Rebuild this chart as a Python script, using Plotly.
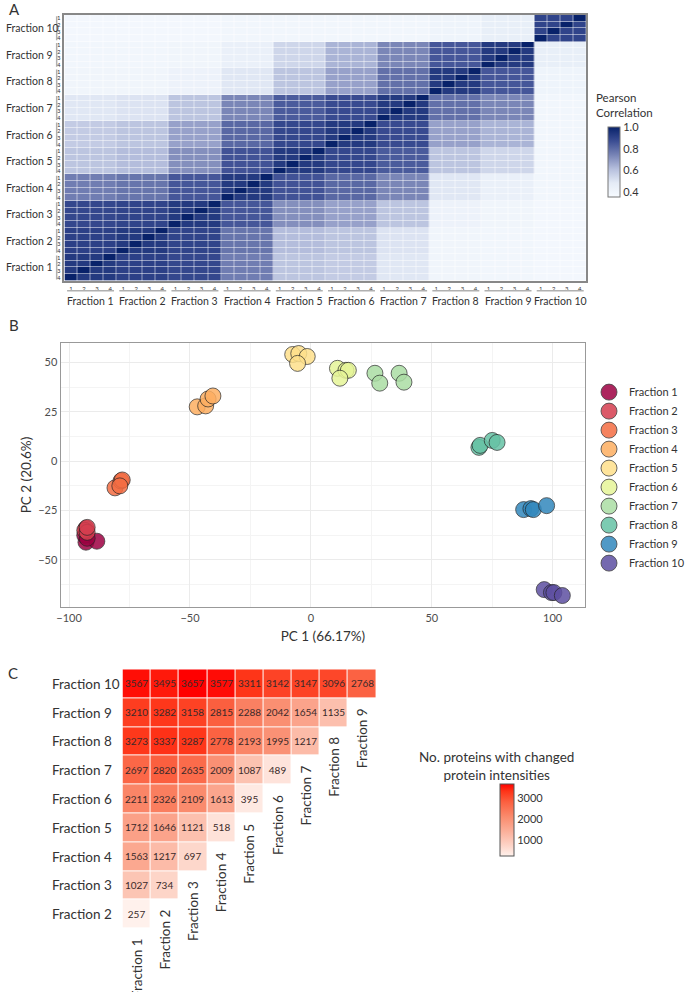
import plotly.graph_objects as go

W, H = 690, 992

fractions = ["Fraction %d" % i for i in range(1, 11)]
reps = ["1", "2", "3", "4"]

# A: mean Pearson correlation between fractions (row = fraction, col = fraction)
block_corr = [
    [0.93, 0.91, 0.89, 0.76, 0.60, 0.58, 0.50, 0.41, 0.40, 0.39],
    [0.91, 0.93, 0.90, 0.78, 0.62, 0.60, 0.51, 0.41, 0.40, 0.39],
    [0.89, 0.90, 0.93, 0.85, 0.72, 0.68, 0.60, 0.43, 0.41, 0.39],
    [0.76, 0.78, 0.85, 0.93, 0.86, 0.81, 0.74, 0.50, 0.45, 0.40],
    [0.60, 0.62, 0.72, 0.86, 0.93, 0.89, 0.84, 0.60, 0.55, 0.40],
    [0.58, 0.60, 0.68, 0.81, 0.89, 0.93, 0.88, 0.68, 0.64, 0.40],
    [0.50, 0.51, 0.60, 0.74, 0.84, 0.88, 0.93, 0.79, 0.74, 0.40],
    [0.41, 0.41, 0.43, 0.50, 0.60, 0.68, 0.79, 0.93, 0.85, 0.42],
    [0.40, 0.40, 0.41, 0.45, 0.55, 0.64, 0.74, 0.85, 0.93, 0.46],
    [0.39, 0.39, 0.39, 0.40, 0.40, 0.40, 0.40, 0.42, 0.46, 0.90],
]
self_corr = 1.0

# B: PCA scores, four replicates per fraction
pc1_scores = [
    [-93, -88.5, -93.5, -92.5],
    [-93, -93.5, -92.5, -92.5],
    [-81, -78.5, -78, -79],
    [-47, -43.5, -42.5, -40.5],
    [-7.5, -5, -1.5, -5.5],
    [11, 14.5, 15.5, 12],
    [26.5, 28.5, 36.5, 38.5],
    [69.5, 70, 75, 77],
    [88, 91, 92, 97.5],
    [96.5, 99.5, 100.5, 104],
]
pc2_scores = [
    [-41, -40.5, -37.5, -39],
    [-34, -35, -36, -33.5],
    [-13.5, -10, -9.5, -12.5],
    [27.5, 28, 31.5, 33],
    [54, 54.5, 53, 49.5],
    [47, 46, 46, 42],
    [44.5, 39.5, 44.5, 40],
    [7, 8, 10.5, 9.5],
    [-24.5, -24, -24.5, -22.5],
    [-65, -66.5, -66.5, -68],
]
spectral = ["#9E0142", "#D53E4F", "#F46D43", "#FDAE61", "#FEE08B",
            "#E6F598", "#ABDDA4", "#66C2A5", "#3288BD", "#5E4FA2"]

# C: number of proteins with changed intensities, rows Fraction 10 (top) .. Fraction 2
c_rows = ["Fraction 10", "Fraction 9", "Fraction 8", "Fraction 7", "Fraction 6",
          "Fraction 5", "Fraction 4", "Fraction 3", "Fraction 2"]
c_cols = ["Fraction %d" % i for i in range(1, 10)]
changed = [
    [3567, 3495, 3657, 3577, 3311, 3142, 3147, 3096, 2768],
    [3210, 3282, 3158, 2815, 2288, 2042, 1654, 1135],
    [3273, 3337, 3287, 2778, 2193, 1995, 1217],
    [2697, 2820, 2635, 2009, 1087, 489],
    [2211, 2326, 2109, 1613, 395],
    [1712, 1646, 1121, 518],
    [1563, 1217, 697],
    [1027, 734],
    [257],
]

FONT = "Lato"
TXT = "#333333"


def px(x):
    return x / W


def py(y):
    return 1 - y / H


fig = go.Figure()

# ---------- A ----------
n = len(fractions) * len(reps)
zA = []
for i in range(n):
    row = []
    for j in range(n):
        row.append(self_corr if i == j else block_corr[i // 4][j // 4])
    zA.append(row)

fig.add_trace(go.Heatmap(
    z=zA, x=list(range(n)), y=list(range(n)), xaxis="x", yaxis="y",
    zmin=0.36, zmax=1.0, xgap=0.5, ygap=0.5, hoverinfo="skip",
    colorscale=[[0, "#f7fbff"], [0.2, "#e4ebf6"], [0.4, "#b6bfdd"],
                [0.6, "#7884b6"], [0.8, "#3b4d93"], [1, "#08226a"]],
    colorbar=dict(x=px(609), xanchor="left", y=py(161), yanchor="middle",
                  len=70, lenmode="pixels", thickness=12,
                  outlinewidth=1, outlinecolor="#777", ypad=0,
                  tickvals=[0.4, 0.6, 0.8, 1.0], ticktext=["0.4", "0.6", "0.8", "1.0"],
                  tickfont=dict(size=11, color=TXT, family=FONT)),
))

rep_ticks_x = [reps[k % 4] for k in range(n)]
rep_ticks_y = [reps[3 - k % 4] for k in range(n)]

annotations = []
shapes = []
for g, name in enumerate(fractions):
    lo, hi = g * 4 - 0.3, g * 4 + 3.3
    shapes.append(dict(type="line", xref="x", yref="paper", x0=lo, x1=hi,
                       y0=py(290), y1=py(290), line=dict(color="#b0b0b0", width=1.5)))
    shapes.append(dict(type="line", xref="paper", yref="y", x0=px(54), x1=px(54),
                       y0=lo, y1=hi, line=dict(color="#b0b0b0", width=1.5)))
    annotations.append(dict(text=name, xref="x", yref="paper", x=g * 4 + 1.5, y=py(300),
                            showarrow=False, xanchor="center", yanchor="middle",
                            font=dict(size=10.5, color=TXT, family=FONT)))
    annotations.append(dict(text=name, xref="paper", yref="y", x=px(0), y=g * 4 + 1.5,
                            showarrow=False, xanchor="left", yanchor="middle",
                            font=dict(size=10.5, color=TXT, family=FONT)))

annotations.append(dict(text="Pearson<br>Correlation", xref="paper", yref="paper",
                        x=px(605), y=py(104), showarrow=False, xanchor="left",
                        yanchor="middle", align="left",
                        font=dict(size=11.5, color=TXT, family=FONT)))

# ---------- B ----------
for k, name in enumerate(fractions):
    fig.add_trace(go.Scatter(
        x=pc1_scores[k], y=pc2_scores[k], xaxis="x2", yaxis="y2", mode="markers",
        name=name, hoverinfo="skip",
        marker=dict(size=16, color=spectral[k], opacity=0.85,
                    line=dict(color="#222222", width=0.8)),
    ))

# ---------- C ----------
nC = len(c_rows)
zC, tC = [], []
for r in range(nC):
    src = changed[nC - 1 - r]
    zC.append([src[c] if c < len(src) else None for c in range(len(c_cols))])
    tC.append([str(src[c]) if c < len(src) else "" for c in range(len(c_cols))])

fig.add_trace(go.Heatmap(
    z=zC, text=tC, texttemplate="%{text}", x=list(range(len(c_cols))), y=list(range(nC)),
    xaxis="x3", yaxis="y3", xgap=1, ygap=1, hoverinfo="skip",
    textfont=dict(size=10, color="#3a2a2a", family=FONT),
    zmin=257, zmax=3657,
    colorscale=[[0, "#fff1ec"], [0.15, "#fdd3c6"], [0.35, "#fbae98"], [0.55, "#fa8a6c"],
                [0.75, "#fb6040"], [0.9, "#fe3418"], [1, "#ff0000"]],
    colorbar=dict(x=px(498), xanchor="left", y=py(820), yanchor="middle",
                  len=72, lenmode="pixels", thickness=14, ypad=0,
                  outlinewidth=1, outlinecolor="#555",
                  tickvals=[1000, 2000, 3000],
                  tickfont=dict(size=11, color=TXT, family=FONT)),
))

c_top, c_bot = 669, 928.5
c_cell = (c_bot - c_top) / nC
for r in range(nC):
    annotations.append(dict(text=c_rows[r], xref="paper", yref="y3", x=px(47), y=nC - 1 - r,
                            showarrow=False, xanchor="left", yanchor="middle",
                            font=dict(size=13.5, color=TXT, family=FONT)))
for c in range(len(c_cols)):
    # label sits just below the lowest filled cell of each column
    label_top = c_bot - c * c_cell + 8
    annotations.append(dict(text=c_cols[c], xref="x3", yref="paper", x=c, y=py(label_top),
                            textangle=-90, showarrow=False, xanchor="center", yanchor="top",
                            font=dict(size=13.5, color=TXT, family=FONT)))

annotations.append(dict(text="No. proteins with changed<br>protein intensities",
                        xref="paper", yref="paper", x=px(505), y=py(766),
                        showarrow=False, xanchor="center", yanchor="middle", align="center",
                        font=dict(size=13.5, color=TXT, family=FONT)))

for letter, x0, y0 in [("A", 3, 8), ("B", 3, 324), ("C", 2, 673)]:
    annotations.append(dict(text=letter, xref="paper", yref="paper", x=px(x0), y=py(y0),
                            showarrow=False, xanchor="left", yanchor="middle",
                            font=dict(size=15, color=TXT, family=FONT)))

grid = "#ebebeb"
fig.update_layout(
    width=W, height=H, autosize=False,
    margin=dict(l=0, r=0, t=0, b=0),
    paper_bgcolor="white", plot_bgcolor="white",
    font=dict(family=FONT, color=TXT),
    xaxis=dict(domain=[px(62), px(597)], range=[-0.5, n - 0.5],
               tickvals=list(range(n)), ticktext=rep_ticks_x, tickfont=dict(size=6, color=TXT),
               showgrid=False, zeroline=False, showline=True, mirror=True,
               linecolor="#888", linewidth=1.5, ticks="", ticklabelstandoff=1),
    yaxis=dict(domain=[py(280), py(14)], range=[-0.5, n - 0.5],
               tickvals=list(range(n)), ticktext=rep_ticks_y, tickfont=dict(size=6, color=TXT),
               showgrid=False, zeroline=False, showline=True, mirror=True,
               linecolor="#888", linewidth=1.5, ticks="", ticklabelstandoff=1),
    xaxis2=dict(domain=[px(58), px(596)], range=[-103.5, 113.5], anchor="y2",
                dtick=50, tick0=0, gridcolor=grid, zeroline=False,
                minor=dict(dtick=25, tick0=0, showgrid=True, gridcolor="#f4f4f4"),
                showline=True, mirror=True, linecolor="#999", linewidth=1.2,
                tickfont=dict(size=11, color="#4d4d4d"),
                title=dict(text="PC 1 (66.17%)", font=dict(size=13.5, color=TXT), standoff=8)),
    yaxis2=dict(domain=[py(607), py(342)], range=[-74, 60], anchor="x2",
                dtick=25, tick0=0, gridcolor=grid, zeroline=False,
                minor=dict(dtick=12.5, tick0=0, showgrid=True, gridcolor="#f4f4f4"),
                showline=True, mirror=True, linecolor="#999", linewidth=1.2,
                tickfont=dict(size=11, color="#4d4d4d"),
                title=dict(text="PC 2 (20.6%)", font=dict(size=13.5, color=TXT), standoff=3)),
    xaxis3=dict(domain=[px(121.5), px(381.5)], range=[-0.5, len(c_cols) - 0.5], anchor="y3",
                visible=False),
    yaxis3=dict(domain=[py(c_bot), py(c_top)], range=[-0.5, nC - 0.5], anchor="x3",
                visible=False),
    legend=dict(x=px(600), y=py(377), xanchor="left", yanchor="top",
                font=dict(size=11, color=TXT), tracegroupgap=0, itemwidth=30),
    annotations=annotations,
    shapes=shapes,
)

# the default page body has an 8px margin; drop it so the figure sits at the window corner
fig.write_html("out.html", config={"displayModeBar": False},
               post_script="document.body.style.margin='0px';")
